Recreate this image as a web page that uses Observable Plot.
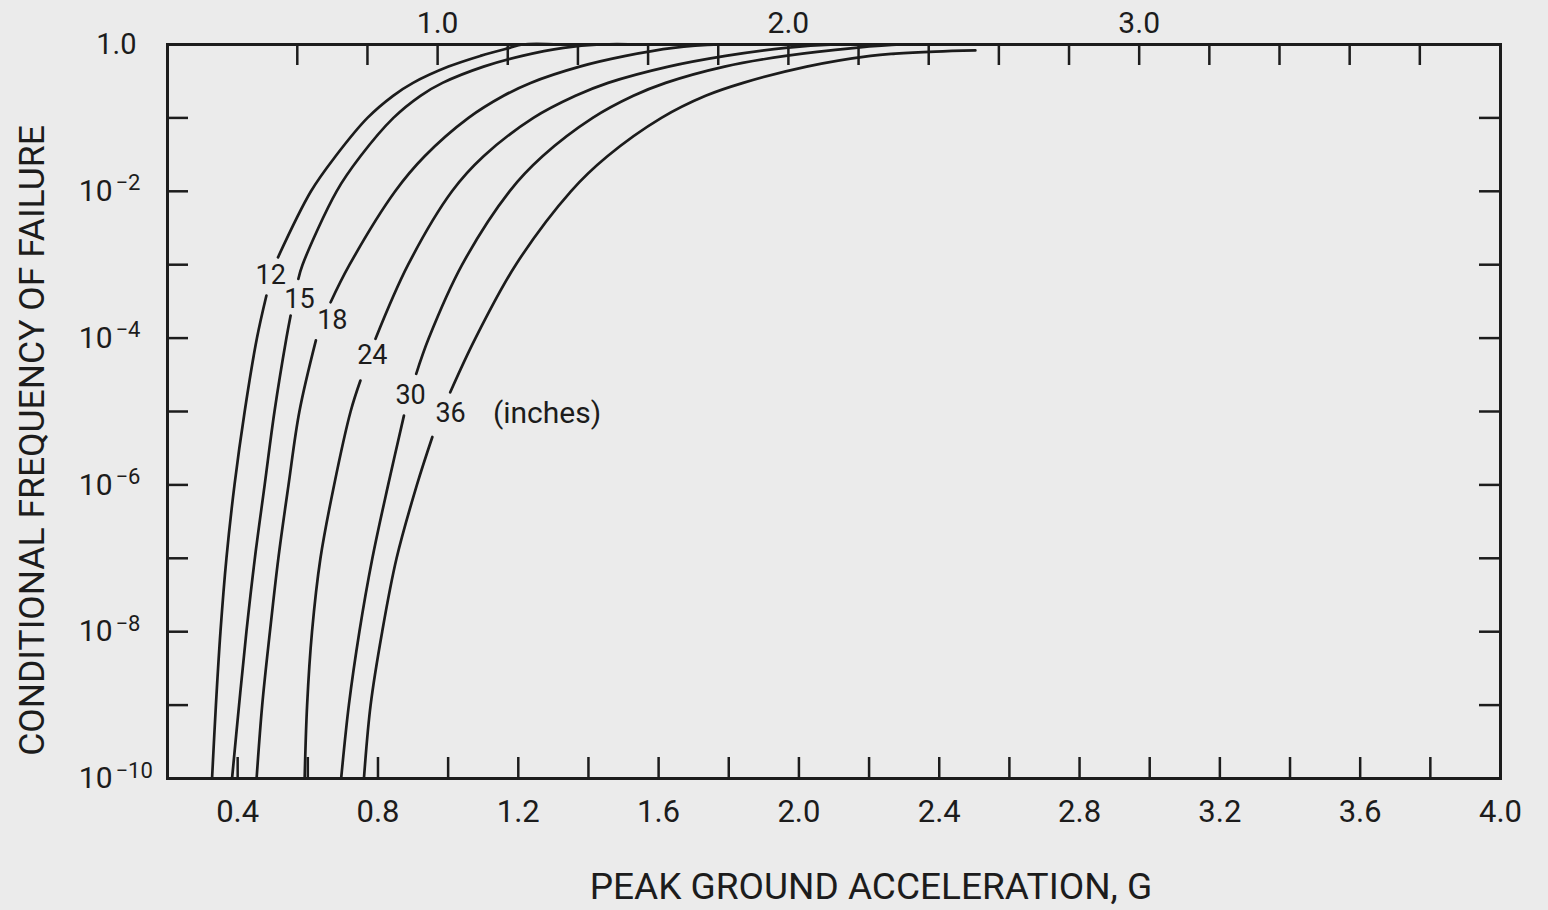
<!DOCTYPE html>
<html>
<head>
<meta charset="utf-8">
<script src="https://cdn.jsdelivr.net/npm/d3@7"></script>
<script src="https://cdn.jsdelivr.net/npm/@observablehq/plot@0.6"></script>
<style>
  html, body { margin: 0; padding: 0; background: #ebebeb; }
  #chart { width: 1548px; height: 910px; }
</style>
</head>
<body>
<div id="chart"></div>
<script>
// ---------- data ----------
const curveNames = ["12", "15", "18", "24", "30", "36"];

// peak ground acceleration (G) vs conditional frequency of failure; null = break where the label sits
const pga12 = [0.327, 0.338, 0.351, 0.368, 0.391, 0.420, 0.455, 0.482, null, 0.515, 0.609, 0.679, 0.770, 0.843, 0.900, 1.001, 1.092, 1.175, 1.212, 1.320];
const pf12  = [1e-10, 1e-9, 1e-8, 1e-7, 1e-6, 1e-5, 1e-4, 3.8e-4, null, 1.26e-3, 1e-2, 0.03, 0.1, 0.2, 0.3, 0.5, 0.7, 0.9, 1, 1];

const pga15 = [0.384, 0.404, 0.425, 0.449, 0.477, 0.505, 0.539, 0.551, null, 0.573, 0.585, 0.682, 0.750, 0.844, 0.921, 0.984, 1.101, 1.211, 1.329, 1.434, 1.548];
const pf15  = [1e-10, 1e-9, 1e-8, 1e-7, 1e-6, 1e-5, 1e-4, 2.03e-4, null, 6.4e-4, 1e-3, 1e-2, 0.03, 0.1, 0.2, 0.3, 0.5, 0.7, 0.9, 1, 1];

const pga18 = [0.454, 0.470, 0.492, 0.516, 0.545, 0.576, 0.623, null, 0.665, 0.719, 0.849, 0.933, 1.058, 1.158, 1.235, 1.375, 1.506, 1.642, 1.776, 1.890];
const pf18  = [1e-10, 1e-9, 1e-8, 1e-7, 1e-6, 1e-5, 9.3e-5, null, 3.08e-4, 1e-3, 1e-2, 0.03, 0.1, 0.2, 0.3, 0.5, 0.7, 0.9, 1, 1];

const pga24 = [0.591, 0.598, 0.612, 0.636, 0.675, 0.722, 0.750, null, 0.793, 0.886, 1.011, 1.101, 1.243, 1.363, 1.456, 1.628, 1.791, 1.962, 2.104, 2.218];
const pf24  = [1e-10, 1e-9, 1e-8, 1e-7, 1e-6, 1e-5, 2.64e-5, null, 9.8e-5, 1e-3, 1e-2, 0.03, 0.1, 0.2, 0.3, 0.5, 0.7, 0.9, 1, 1];

const pga30 = [0.695, 0.717, 0.747, 0.784, 0.829, 0.874, null, 0.909, 0.945, 1.040, 1.175, 1.269, 1.412, 1.528, 1.620, 1.788, 1.962, 2.161, 2.290, 2.389];
const pf30  = [1e-10, 1e-9, 1e-8, 1e-7, 1e-6, 8.8e-6, null, 3.26e-5, 1e-4, 1e-3, 1e-2, 0.03, 0.1, 0.2, 0.3, 0.5, 0.7, 0.9, 1, 1];

const pga36 = [0.760, 0.779, 0.812, 0.853, 0.911, 0.955, null, 1.006, 1.078, 1.193, 1.350, 1.454, 1.608, 1.734, 1.841, 2.022, 2.204, 2.275, 2.389, 2.503];
const pf36  = [1e-10, 1e-9, 1e-8, 1e-7, 1e-6, 4.5e-6, null, 1.83e-5, 1e-4, 1e-3, 1e-2, 0.03, 0.1, 0.2, 0.3, 0.5, 0.7, 0.75, 0.8, 0.83];

// curve labels (placed in the breaks of the curves)
const labelText = ["12", "15", "18", "24", "30", "36"];
const labelPga  = [0.494, 0.576, 0.670, 0.784, 0.893, 1.007];
const labelPf   = [7.1e-4, 3.36e-4, 1.74e-4, 5.8e-5, 1.65e-5, 9.5e-6];
const unitText  = "(inches)";
const unitPga   = 1.282;
const unitPf    = 9.5e-6;

// axes
const xDomain = [0.2, 4.0];
const yDomain = [1e-10, 1];
const xTickValues  = [0.4, 0.6, 0.8, 1.0, 1.2, 1.4, 1.6, 1.8, 2.0, 2.2, 2.4, 2.6, 2.8, 3.0, 3.2, 3.4, 3.6, 3.8];
const xLabelValues = [0.4, 0.8, 1.2, 1.6, 2.0, 2.4, 2.8, 3.2, 3.6, 4.0];
const topTickValues  = [0.6, 0.8, 1.0, 1.2, 1.4, 1.6, 1.8, 2.0, 2.2, 2.4, 2.6, 2.8, 3.0, 3.2, 3.4, 3.6, 3.8];
const topLabelValues = [1.0, 2.0, 3.0];
const topShift = -0.03; // the upper scale sits slightly left of the lower one
const yTickValues  = [1e-9, 1e-8, 1e-7, 1e-6, 1e-5, 1e-4, 1e-3, 1e-2, 1e-1];
const yPowerLabels = [1e-2, 1e-4, 1e-6, 1e-8, 1e-10];   // drawn as 10 with a raised exponent
const yUnitLabel   = [1];                               // drawn as "1.0"
const xTitle = "PEAK GROUND ACCELERATION, G";
const yTitle = "CONDITIONAL FREQUENCY OF FAILURE";

// ---------- build ----------
const series = [[pga12, pf12], [pga15, pf15], [pga18, pf18], [pga24, pf24], [pga30, pf30], [pga36, pf36]];
const rows = [];
series.forEach(([xs, ys], i) => {
  xs.forEach((x, j) => rows.push({curve: curveNames[i], pga: x == null ? NaN : x, pf: ys[j] == null ? NaN : ys[j]}));
});
const labels = labelText.map((t, i) => ({t, x: labelPga[i], y: labelPf[i]}));

const INK = "#1c1c1c";
const BG = "#ebebeb";
const FONT = 'Roboto, "DejaVu Sans", sans-serif';
const W = 1548, H = 910, ML = 167, MR = 48, MT = 44, MB = 132;
const PW = W - ML - MR, PH = H - MT - MB, TL = 21;

const chart = Plot.plot({
  width: W, height: H,
  marginLeft: ML, marginRight: MR, marginTop: MT, marginBottom: MB,
  x: {domain: xDomain, label: null},
  y: {type: "log", domain: yDomain, label: null, axis: null},
  style: {background: BG, color: INK, fontFamily: FONT},
  marks: [
    // inward ticks on all four sides
    Plot.tickY(yTickValues, {y: d => d, insetRight: PW - TL, stroke: INK, strokeWidth: 2.5}),
    Plot.tickY(yTickValues, {y: d => d, insetLeft: PW - TL, stroke: INK, strokeWidth: 2.5}),
    Plot.tickX(xTickValues, {x: d => d, insetTop: PH - TL, stroke: INK, strokeWidth: 2.5}),
    Plot.tickX(topTickValues, {x: d => d + topShift, insetBottom: PH - TL, stroke: INK, strokeWidth: 2.5}),
    Plot.frame({stroke: INK, strokeWidth: 3}),
    // y labels: "1.0" and 10^-n with a raised exponent
    Plot.text(yUnitLabel, {y: d => d, frameAnchor: "left", textAnchor: "end", dx: -31, text: () => "1.0", fontSize: 29, fill: INK}),
    Plot.text(yPowerLabels, {y: d => d, frameAnchor: "left", textAnchor: "end", dx: -55, text: () => "10", fontSize: 30, fill: INK}),
    Plot.text(yPowerLabels, {y: d => d, frameAnchor: "left", textAnchor: "start", dx: -52, dy: -8, text: d => "\u2212" + Math.round(-Math.log10(d)), fontSize: 22, fill: INK}),
    Plot.axisX({ticks: xLabelValues, tickFormat: d => d.toFixed(1), tickSize: 0, tickPadding: 21, fontSize: 31, label: null}),
    Plot.axisX({anchor: "top", ticks: topLabelValues.map(v => v + topShift), tickFormat: d => (d - topShift).toFixed(1), tickSize: 0, tickPadding: 12, fontSize: 30, label: null}),
    Plot.line(rows, {x: "pga", y: "pf", z: "curve", stroke: INK, strokeWidth: 2.7, curve: "catmull-rom"}),
    Plot.text(labels, {x: "x", y: "y", text: "t", fontSize: 27, fill: INK}),
    Plot.text([unitText], {x: () => unitPga, y: () => unitPf, text: d => d, fontSize: 30, fill: INK}),
    Plot.text([xTitle], {frameAnchor: "bottom", lineAnchor: "middle", dx: 37, dy: 109, text: d => d, fontSize: 37, fill: INK}),
    Plot.text([yTitle], {frameAnchor: "left", textAnchor: "middle", lineAnchor: "middle", rotate: -90, dx: -135, dy: 29, text: d => d, fontSize: 35.5, fill: INK})
  ]
});
document.getElementById("chart").appendChild(chart);
</script>
</body>
</html>
